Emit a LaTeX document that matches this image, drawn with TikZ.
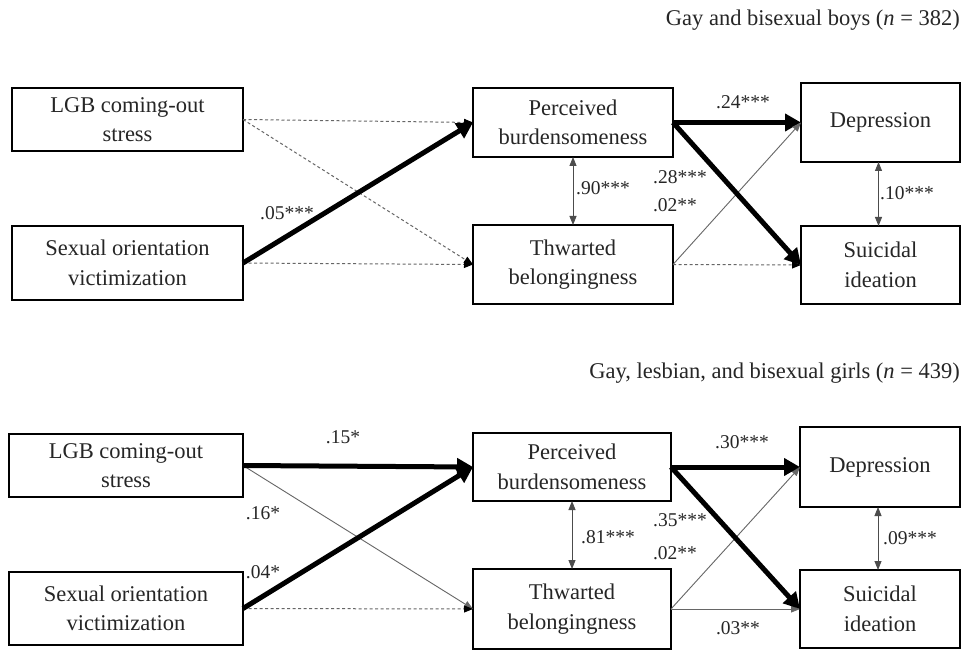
\documentclass[tikz,border=0pt]{standalone}
\usepackage{fontspec}
\setmainfont{Liberation Serif}
\usetikzlibrary{arrows.meta}
\begin{document}
\begin{tikzpicture}[x=1pt,y=-1pt,
  box/.style={draw, line width=1.4pt, inner sep=0pt, outer sep=0pt, align=center,
    font=\fontsize{22.5}{29.5}\selectfont, text=black!85},
  lab/.style={inner sep=0pt, font=\fontsize{19.5}{22}\selectfont, text=black!85},
  ttl/.style={inner sep=0pt, anchor=east, font=\fontsize{22.5}{27}\selectfont, text=black!85},
  strong/.style={line width=5pt, -{Triangle[length=16pt,width=17pt]}},
  weak/.style={line width=0.9pt, draw=black!60, -{Triangle[length=9pt,width=7pt]}},
  nonsig/.style={line width=1pt, draw=black!60, dash pattern=on 3pt off 2.5pt, -{Triangle[length=9pt,width=7pt,fill=black,color=black]}},
  corr/.style={line width=0.9pt, draw=black!70, {Triangle[length=9pt,width=7pt]}-{Triangle[length=9pt,width=7pt]}}
]
\useasboundingbox (0,0) rectangle (965,652);
\fill[white] (0,0) rectangle (965,652);

% ---------- top panel ----------
\node[ttl] (t1) at (960,20) {Gay and bisexual boys (\textit{n} = 382)};
\node[box, minimum width=231pt, minimum height=63pt] (lgb1) at (127.5,119.5) {LGB coming-out\\stress};
\node[box, minimum width=231pt, minimum height=74pt] (sov1) at (127.5,263) {Sexual orientation\\victimization};
\node[box, minimum width=200pt, minimum height=69pt] (pb1) at (573,122.5) {Perceived\\burdensomeness};
\node[box, minimum width=200pt, minimum height=79pt] (tb1) at (573,264.5) {Thwarted\\belongingness};
\node[box, minimum width=159pt, minimum height=79pt] (dep1) at (880.5,122.5) {Depression};
\node[box, minimum width=159pt, minimum height=78pt] (si1) at (880.5,265) {Suicidal\\ideation};

\draw[nonsig] (lgb1.east) -- (pb1.west);
\draw[nonsig] (lgb1.east) -- (tb1.west);
\draw[nonsig] (sov1.east) -- (tb1.west);
\draw[strong] (sov1.east) -- (pb1.west);
\draw[strong] (pb1.east) -- (dep1.west);
\draw[weak] (tb1.east) -- (dep1.west);
\draw[nonsig] (tb1.east) -- (si1.west);
\draw[strong] (pb1.east) -- (si1.west);
\draw[corr] (pb1.south) -- (tb1.north);
\draw[corr] ([xshift=-2pt]dep1.south) -- ([xshift=-2pt]si1.north);

\node[lab] (l105) at (287,213) {.05***};
\node[lab] (l124) at (743,102) {.24***};
\node[lab] (l128) at (680,177) {.28***};
\node[lab] (l102) at (675,205) {.02**};
\node[lab] (l190) at (603,188) {.90***};
\node[lab] (l110) at (907,193) {.10***};

% ---------- bottom panel ----------
\node[ttl] (t2) at (960,373) {Gay, lesbian, and bisexual girls (\textit{n} = 439)};
\node[box, minimum width=234pt, minimum height=63pt] (lgb2) at (126,465.5) {LGB coming-out\\stress};
\node[box, minimum width=234pt, minimum height=73pt] (sov2) at (126,608.5) {Sexual orientation\\victimization};
\node[box, minimum width=198pt, minimum height=68pt] (pb2) at (572,467) {Perceived\\burdensomeness};
\node[box, minimum width=198pt, minimum height=80pt] (tb2) at (572,609) {Thwarted\\belongingness};
\node[box, minimum width=160pt, minimum height=80pt] (dep2) at (880,467) {Depression};
\node[box, minimum width=160pt, minimum height=78pt] (si2) at (880,609) {Suicidal\\ideation};

\draw[weak] (lgb2.east) -- (tb2.west);
\draw[nonsig] (sov2.east) -- (tb2.west);
\draw[strong] (lgb2.east) -- (pb2.west);
\draw[strong] (sov2.east) -- (pb2.west);
\draw[weak] (tb2.east) -- (dep2.west);
\draw[weak] (tb2.east) -- (si2.west);
\draw[strong] (pb2.east) -- (dep2.west);
\draw[strong] (pb2.east) -- (si2.west);
\draw[corr] (pb2.south) -- (tb2.north);
\draw[corr] ([xshift=-2pt]dep2.south) -- ([xshift=-2pt]si2.north);

\node[lab] (l215) at (343,437) {.15*};
\node[lab] (l216) at (263,513) {.16*};
\node[lab] (l204) at (263,572) {.04*};
\node[lab] (l230) at (742,442) {.30***};
\node[lab] (l235) at (680,520) {.35***};
\node[lab] (l202) at (675,553) {.02**};
\node[lab] (l281) at (608,537) {.81***};
\node[lab] (l209) at (910,538) {.09***};
\node[lab] (l203) at (738,628) {.03**};
\end{tikzpicture}
\end{document}
